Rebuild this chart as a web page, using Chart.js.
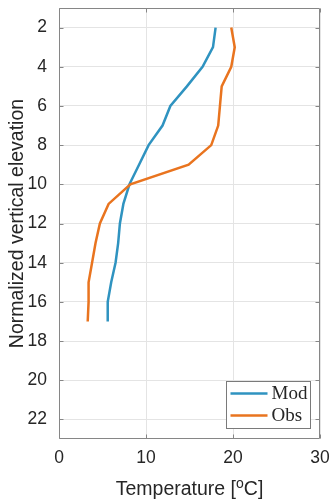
<!DOCTYPE html>
<html>
<head>
<meta charset="utf-8">
<script src="https://cdn.jsdelivr.net/npm/chart.js@4/dist/chart.umd.min.js"></script>
<style>
  html, body { margin: 0; padding: 0; background: #fff; }
  canvas { display: block; }
</style>
</head>
<body>
<canvas id="c" width="332" height="502"></canvas>
<script>
// Vertical temperature profiles: model vs. observation
const levels  = [2, 3, 4, 5, 6, 7, 8, 9, 10, 11, 12, 13, 14, 15, 16, 17];
const modTemp = [18.0, 17.7, 16.5, 14.7, 12.8, 11.9, 10.3, 9.2, 8.1, 7.4, 7.0, 6.8, 6.5, 6.0, 5.6, 5.6];
const obsTemp = [19.8, 20.2, 19.8, 18.7, 18.5, 18.3, 17.5, 14.9, 8.2, 5.7, 4.7, 4.2, 3.8, 3.4, 3.4, 3.3];
const seriesNames = ['Mod', 'Obs'];
const xTicks = [0, 10, 20, 30];
const yTicks = [2, 4, 6, 8, 10, 12, 14, 16, 18, 20, 22];
const yTitle = 'Normalized vertical elevation';
const xTitleParts = ['Temperature [', 'o', 'C]'];

const BLUE = '#2f93c0';
const ORANGE = '#e9741f';
const TEXT = '#262626';
const FRAME = '#868686';
const GRID = '#e4e4e4';

const toPoints = (temps) => temps.map((t, i) => ({ x: t, y: levels[i] }));

// Box around the axes with small inward tick marks on every side
const framePlugin = {
  id: 'frame',
  afterDatasetsDraw(chart) {
    const { ctx, chartArea: a, scales } = chart;
    const L = Math.round(a.left) + 0.5, R = Math.round(a.right) - 0.5;
    const T = Math.round(a.top) + 0.5, B = Math.round(a.bottom) - 0.5;
    const tl = 4;
    ctx.save();
    ctx.strokeStyle = FRAME;
    ctx.lineWidth = 1;
    ctx.beginPath();
    ctx.rect(L, T, R - L, B - T);
    xTicks.forEach(v => {
      const px = Math.round(scales.x.getPixelForValue(v)) + 0.5;
      ctx.moveTo(px, B); ctx.lineTo(px, B - tl);
      ctx.moveTo(px, T); ctx.lineTo(px, T + tl);
    });
    yTicks.forEach(v => {
      const py = Math.round(scales.y.getPixelForValue(v)) + 0.5;
      ctx.moveTo(L, py); ctx.lineTo(L + tl, py);
      ctx.moveTo(R, py); ctx.lineTo(R - tl, py);
    });
    ctx.stroke();
    ctx.restore();
  }
};

// X-axis title with a superscript "o" before C
const xTitlePlugin = {
  id: 'xTitle',
  afterDraw(chart) {
    const { ctx, chartArea: a } = chart;
    const big = '19.5px "Liberation Sans", Arial, sans-serif';
    const small = '14px "Liberation Sans", Arial, sans-serif';
    ctx.save();
    ctx.fillStyle = TEXT;
    ctx.textBaseline = 'alphabetic';
    ctx.textAlign = 'left';
    ctx.font = big;
    const w0 = ctx.measureText(xTitleParts[0]).width;
    const w2 = ctx.measureText(xTitleParts[2]).width;
    ctx.font = small;
    const w1 = ctx.measureText(xTitleParts[1]).width;
    const total = w0 + w1 + w2;
    const cx = (a.left + a.right) / 2;
    let x = cx - total / 2;
    const base = 495;
    ctx.font = big;
    ctx.fillText(xTitleParts[0], x, base);
    x += w0;
    ctx.font = small;
    ctx.fillText(xTitleParts[1], x, base - 7.5);
    x += w1;
    ctx.font = big;
    ctx.fillText(xTitleParts[2], x, base);
    ctx.restore();
  }
};

// Boxed legend in the lower-right corner of the axes
const legendPlugin = {
  id: 'boxLegend',
  afterDraw(chart) {
    const { ctx } = chart;
    const boxL = 226.5, boxR = 310.5, boxT = 381.5, boxB = 428.5;
    ctx.save();
    ctx.fillStyle = '#fff';
    ctx.fillRect(boxL, boxT, boxR - boxL, boxB - boxT);
    ctx.strokeStyle = '#7a7a7a';
    ctx.lineWidth = 1;
    ctx.strokeRect(boxL, boxT, boxR - boxL, boxB - boxT);
    ctx.font = '19px "Liberation Serif", "Times New Roman", serif';
    ctx.textBaseline = 'alphabetic';
    ctx.textAlign = 'left';
    const rows = [393.5, 415.5];
    chart.data.datasets.forEach((ds, i) => {
      const y = rows[i];
      ctx.strokeStyle = ds.borderColor;
      ctx.lineWidth = ds.borderWidth;
      ctx.beginPath();
      ctx.moveTo(230.5, y);
      ctx.lineTo(267.5, y);
      ctx.stroke();
      ctx.fillStyle = TEXT;
      ctx.fillText(ds.label, 271.5, y + 5);
    });
    ctx.restore();
  }
};

new Chart(document.getElementById('c'), {
  type: 'scatter',
  data: {
    datasets: [
      { label: seriesNames[0], data: toPoints(modTemp), borderColor: BLUE, backgroundColor: BLUE,
        borderWidth: 2.5, showLine: true, pointRadius: 0, tension: 0, order: 1 },
      { label: seriesNames[1], data: toPoints(obsTemp), borderColor: ORANGE, backgroundColor: ORANGE,
        borderWidth: 2.5, showLine: true, pointRadius: 0, tension: 0, order: 0 }
    ]
  },
  options: {
    responsive: false,
    animation: false,
    devicePixelRatio: 1,
    layout: { padding: { left: 0, right: 12, top: 8, bottom: 0 } },
    plugins: {
      legend: { display: false },
      tooltip: { enabled: false }
    },
    scales: {
      x: {
        type: 'linear',
        min: 0, max: 30,
        afterBuildTicks: (s) => { s.ticks = xTicks.map(v => ({ value: v })); },
        afterFit: (s) => { s.height = 63; s.paddingLeft = 0; s.paddingRight = 0; s.paddingTop = 0; s.paddingBottom = 0; },
        grid: { color: GRID, drawTicks: false },
        border: { display: false },
        ticks: {
          color: TEXT, padding: 9, maxRotation: 0,
          font: { family: '"Liberation Sans", Arial, sans-serif', size: 17.5 }
        }
      },
      y: {
        type: 'linear',
        reverse: true,
        min: 1, max: 23,
        afterBuildTicks: (s) => { s.ticks = yTicks.map(v => ({ value: v })); },
        afterFit: (s) => { s.width = 59; s.paddingLeft = 0; s.paddingRight = 0; s.paddingTop = 0; s.paddingBottom = 0; },
        grid: { color: GRID, drawTicks: false },
        border: { display: false },
        ticks: {
          color: TEXT, padding: 12,
          font: { family: '"Liberation Sans", Arial, sans-serif', size: 17.5 }
        },
        title: {
          display: true,
          text: yTitle,
          color: TEXT,
          padding: { top: 6, bottom: 0 },
          font: { family: '"Liberation Sans", Arial, sans-serif', size: 19.5 }
        }
      }
    }
  },
  plugins: [framePlugin, xTitlePlugin, legendPlugin]
});
</script>
</body>
</html>
